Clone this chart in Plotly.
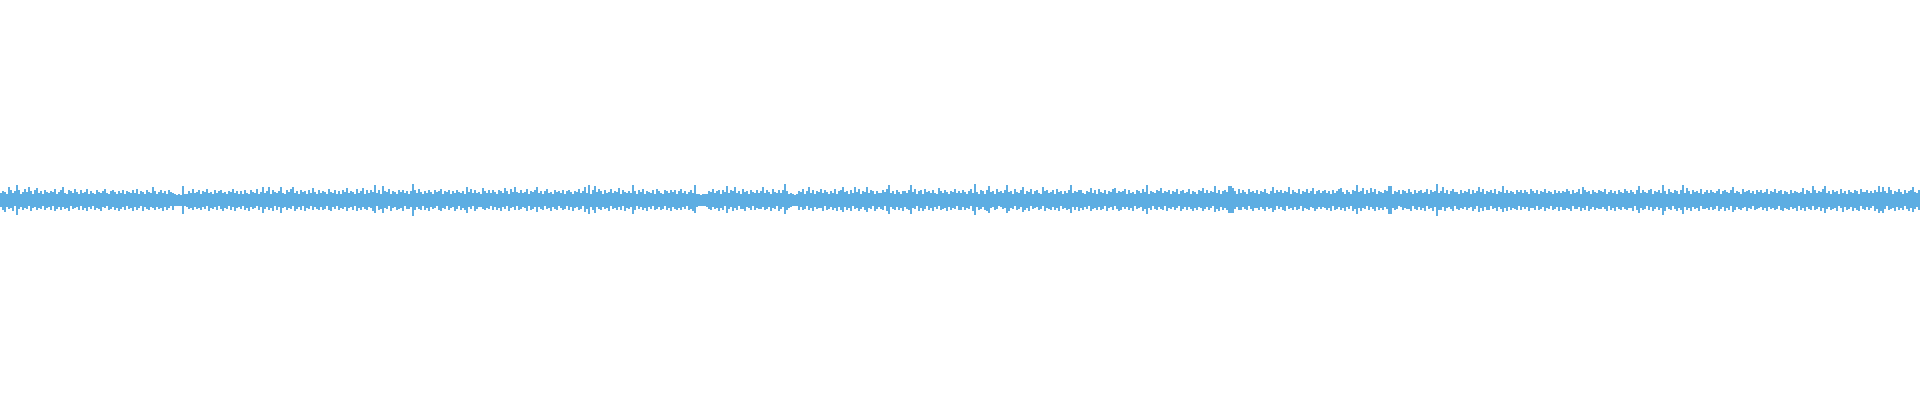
import plotly.graph_objects as go

# Waveform peaks per 2-pixel bucket (sample amplitude, full scale = 1000)
peak_max = [
    34,47,41,30,63,52,35,43,75,49,31,42,53,38,63,45,29,48,58,37,
    44,30,51,38,33,46,39,54,31,42,48,63,36,29,50,44,35,53,40,32,
    48,33,40,55,31,45,37,29,50,42,34,47,53,36,30,44,51,38,32,46,
    36,51,30,45,40,33,49,37,54,31,44,39,28,50,42,35,63,47,30,41,
    52,35,44,31,48,38,34,29,27,31,26,70,28,30,47,36,53,33,42,49,
    31,46,38,53,35,41,30,49,36,44,52,33,40,29,47,38,55,34,43,30,
    45,32,50,37,29,48,42,35,53,31,40,63,37,46,63,30,51,38,34,47,
    63,36,30,49,41,55,63,33,45,29,52,38,43,31,48,36,58,40,32,50,
    33,47,39,30,53,41,36,49,31,45,28,52,38,58,34,46,40,30,54,37,
    44,58,32,48,37,51,42,75,35,49,30,70,45,38,53,31,46,40,29,50,
    38,52,34,46,30,43,80,49,36,54,40,31,47,35,51,42,29,48,38,45,
    53,31,44,38,49,29,46,35,52,40,33,47,30,63,42,55,34,48,37,41,
    30,58,45,36,52,33,48,40,29,50,43,35,58,46,31,54,38,67,42,33,
    49,36,41,53,30,46,38,51,63,34,47,29,44,55,37,42,31,50,39,46,
    35,48,31,45,52,38,29,47,41,54,33,43,63,36,75,30,49,70,40,53,
    44,31,50,37,42,55,33,46,38,58,29,51,40,34,47,36,75,43,30,52,
    38,53,30,46,41,35,49,32,54,43,37,28,50,45,33,48,39,52,31,44,
    53,37,47,31,42,50,34,75,30,28,27,31,29,32,46,38,53,35,44,48,
    31,49,40,70,36,52,43,63,33,47,30,55,38,45,29,51,41,36,48,34,
    46,67,35,50,39,30,54,42,33,48,37,52,80,44,31,33,29,27,30,45,
    40,53,32,47,63,36,50,29,45,38,55,34,49,41,31,46,37,53,30,44,
    51,63,38,44,30,49,35,63,42,53,31,47,39,63,34,50,43,29,46,37,
    33,48,41,55,75,36,45,31,52,38,29,47,43,35,50,75,40,54,32,46,
    48,30,53,39,44,33,50,37,29,58,46,34,52,41,31,47,38,55,36,43,
    36,51,42,30,47,54,35,80,40,32,49,45,29,52,70,38,44,31,53,41,
    45,33,50,75,38,46,29,53,41,35,48,63,32,47,39,55,30,44,51,36,
    30,63,44,52,35,41,49,31,54,38,43,30,47,36,52,75,33,45,40,50,
    52,37,31,46,40,58,34,49,29,53,42,36,48,31,45,39,55,58,33,47,
    39,46,53,32,48,37,42,30,51,44,35,54,38,75,29,47,41,33,50,43,
    58,34,45,40,52,31,47,38,55,30,43,49,36,41,53,32,46,39,28,51,
    43,58,37,50,33,46,41,70,35,52,30,44,48,38,70,68,62,47,31,53,
    36,49,42,31,54,39,45,33,50,28,47,41,53,37,30,46,63,35,51,40,
    51,33,46,38,63,30,49,42,36,53,31,45,40,55,34,47,58,29,43,50,
    34,47,52,37,43,31,50,36,45,54,58,39,32,48,41,30,52,44,75,38,
    45,58,31,49,36,58,42,53,30,46,39,34,51,44,70,70,29,47,38,52,
    32,50,43,37,54,40,31,48,36,45,52,33,41,55,30,49,38,44,80,35,
    47,63,36,51,30,45,53,38,42,29,50,35,46,40,54,31,48,37,43,63,
    40,53,31,46,38,49,34,55,30,44,41,70,36,52,33,47,39,29,50,42,
    52,35,48,40,31,54,43,36,49,30,46,38,53,33,45,41,29,51,37,44,
    33,47,39,53,44,30,50,36,41,55,32,63,48,38,45,29,52,40,35,49,
    46,38,54,31,42,49,35,47,30,52,40,36,53,44,33,48,38,29,51,70,
    37,51,42,33,48,55,31,45,39,50,34,75,46,30,53,41,36,49,43,32,
    50,75,35,58,44,31,52,38,47,36,54,29,42,48,33,51,40,37,45,53,
    31,45,52,39,36,49,63,33,47,42,30,55,38,46,51,34,43,29,50,40,
    48,36,41,54,30,46,38,53,35,44,50,31,47,40,29,52,37,45,42,33,
    42,58,30,49,45,37,70,51,33,47,40,54,70,36,43,31,50,38,46,29,
    53,37,46,32,51,40,35,48,44,30,55,38,42,49,33,46,36,52,41,70,
    39,67,44,36,63,50,31,47,38,53,42,29,49,35,45,52,63,40,34,48,
]

peak_min = [
    -37,-50,-62,-33,-46,-41,-54,-30,-75,-44,-36,-52,-39,-47,-31,-53,-42,-35,-49,-38,
    -45,-31,-52,-40,-36,-48,-29,-54,-43,-37,-50,-33,-46,-41,-55,-30,-47,-39,-34,-51,
    -32,-49,-41,-53,-36,-45,-30,-51,-38,-47,-54,-35,-42,-29,-50,-44,-33,-48,-40,-55,
    -47,-36,-52,-31,-44,-39,-55,-34,-48,-42,-30,-53,-37,-45,-50,-33,-41,-49,-35,-46,
    -39,-53,-34,-48,-42,-30,-50,-31,-29,-32,-28,-70,-30,-33,-45,-38,-52,-36,-47,-41,
    -51,-37,-44,-30,-55,-40,-47,-35,-49,-32,-43,-53,-38,-46,-31,-50,-36,-54,-42,-34,
    -44,-30,-49,-38,-53,-35,-46,-41,-29,-52,-37,-63,-45,-33,-50,-40,-55,-31,-48,-36,
    -63,-42,-34,-51,-38,-47,-30,-53,-44,-36,-49,-32,-55,-40,-45,-29,-52,-37,-43,-48,
    -35,-50,-43,-31,-48,-54,-37,-45,-29,-52,-40,-46,-33,-55,-41,-36,-49,-30,-53,-39,
    -48,-33,-46,-52,-37,-42,-55,-67,-31,-50,-44,-67,-38,-47,-30,-53,-41,-35,-49,-43,
    -40,-54,-31,-47,-43,-36,-78,-49,-33,-45,-52,-30,-48,-39,-55,-34,-46,-42,-29,-51,
    -53,-38,-45,-30,-50,-41,-35,-54,-44,-32,-48,-39,-52,-63,-36,-47,-31,-55,-43,-37,
    -33,-47,-52,-39,-44,-30,-51,-36,-49,-42,-55,-34,-46,-31,-53,-40,-37,-48,-29,-50,
    -46,-35,-41,-54,-31,-49,-43,-37,-58,-33,-47,-52,-30,-45,-40,-55,-36,-44,-50,-32,
    -38,-52,-44,-30,-48,-36,-53,-41,-33,-49,-46,-31,-58,-43,-72,-37,-51,-67,-34,-45,
    -50,-33,-47,-42,-55,-31,-44,-38,-52,-35,-48,-30,-53,-40,-45,-36,-72,-49,-32,-46,
    -35,-49,-41,-54,-37,-45,-30,-52,-43,-33,-50,-46,-29,-48,-39,-55,-34,-44,-51,-38,
    -52,-37,-46,-31,-49,-43,-55,-67,-33,-31,-30,-32,-29,-34,-44,-50,-36,-47,-40,-53,
    -41,-48,-30,-67,-45,-36,-53,-39,-50,-32,-47,-44,-55,-35,-42,-49,-31,-52,-38,-46,
    -47,-34,-51,-43,-37,-55,-40,-46,-30,-53,-44,-36,-72,-48,-41,-35,-31,-30,-32,-49,
    -36,-52,-44,-31,-48,-40,-54,-33,-47,-42,-38,-55,-30,-50,-45,-35,-49,-41,-53,-37,
    -51,-58,-35,-49,-42,-55,-31,-46,-38,-53,-44,-33,-50,-62,-40,-47,-30,-54,-43,-36,
    -43,-49,-30,-54,-70,-37,-46,-51,-33,-48,-41,-55,-36,-45,-52,-72,-39,-47,-31,-53,
    -38,-53,-45,-32,-49,-42,-55,-36,-47,-30,-51,-44,-38,-54,-33,-48,-41,-46,-29,-52,
    -49,-35,-52,-40,-46,-31,-54,-75,-37,-50,-43,-33,-48,-55,-67,-42,-36,-51,-45,-30,
    -33,-47,-41,-67,-53,-38,-45,-30,-52,-44,-36,-62,-49,-40,-55,-31,-47,-42,-35,-50,
    -46,-31,-54,-38,-43,-50,-35,-48,-41,-55,-30,-47,-39,-52,-44,-67,-33,-49,-37,-53,
    -40,-52,-36,-47,-30,-55,-43,-38,-51,-34,-48,-45,-31,-53,-42,-37,-50,-29,-46,-54,
    -51,-37,-45,-33,-49,-42,-55,-31,-47,-40,-36,-53,-44,-72,-38,-50,-30,-46,-52,-35,
    -44,-50,-31,-54,-39,-47,-35,-52,-41,-30,-55,-43,-37,-49,-33,-46,-53,-40,-48,-36,
    -38,-53,-47,-36,-51,-42,-30,-62,-45,-55,-33,-49,-40,-52,-63,-63,-63,-44,-37,-50,
    -52,-35,-43,-49,-31,-46,-54,-38,-41,-50,-36,-47,-55,-33,-44,-39,-62,-48,-30,-45,
    -37,-49,-55,-32,-45,-40,-51,-35,-48,-43,-30,-53,-38,-46,-52,-36,-41,-54,-47,-33,
    -47,-33,-42,-52,-38,-55,-31,-49,-44,-36,-50,-40,-54,-35,-46,-30,-53,-43,-72,-39,
    -53,-40,-46,-31,-50,-37,-44,-55,-33,-48,-41,-52,-36,-45,-70,-70,-38,-51,-43,-30,
    -36,-51,-38,-47,-43,-54,-30,-45,-52,-35,-49,-41,-55,-32,-46,-40,-53,-37,-78,-48,
    -49,-34,-53,-41,-36,-47,-55,-31,-44,-50,-38,-46,-33,-52,-42,-37,-54,-45,-30,-62,
    -42,-55,-35,-48,-51,-30,-45,-39,-53,-36,-47,-62,-41,-54,-33,-49,-38,-44,-52,-31,
    -50,-37,-46,-33,-54,-42,-39,-52,-31,-48,-45,-36,-55,-40,-47,-30,-51,-43,-35,-53,
    -34,-48,-52,-39,-45,-55,-31,-47,-43,-37,-53,-40,-49,-30,-54,-44,-36,-50,-42,-46,
    -47,-35,-43,-53,-30,-49,-41,-55,-36,-45,-51,-33,-46,-52,-38,-42,-54,-31,-48,-67,
    -39,-52,-46,-31,-50,-37,-55,-43,-34,-48,-41,-75,-53,-36,-45,-49,-30,-47,-54,-40,
    -51,-72,-36,-48,-42,-55,-33,-46,-40,-53,-30,-47,-44,-38,-52,-35,-49,-43,-31,-54,
    -44,-37,-53,-41,-49,-30,-58,-50,-36,-46,-52,-39,-33,-55,-42,-47,-31,-51,-45,-38,
    -36,-50,-42,-55,-33,-47,-40,-52,-45,-31,-48,-54,-38,-43,-50,-35,-46,-41,-53,-30,
    -48,-41,-54,-37,-45,-52,-31,-49,-43,-36,-55,-40,-63,-47,-34,-51,-44,-38,-53,-32,
    -42,-58,-35,-50,-46,-33,-53,-39,-48,-55,-31,-45,-52,-37,-49,-41,-30,-54,-44,-63,
    -53,-63,-47,-32,-50,-44,-38,-55,-36,-49,-41,-52,-30,-46,-54,-39,-62,-45,-33,-48,
]

n = min(len(peak_max), len(peak_min))
idx = list(range(n))
heights = [peak_max[i] - peak_min[i] for i in range(n)]

fig = go.Figure(
    go.Bar(
        x=idx,
        y=heights,
        base=peak_min[:n],
        marker=dict(color="#5DADE2", line=dict(width=0)),
        hoverinfo="skip",
    )
)

fig.update_layout(
    width=1920,
    height=400,
    margin=dict(l=0, r=0, t=0, b=0),
    paper_bgcolor="white",
    plot_bgcolor="white",
    bargap=0,
    showlegend=False,
    xaxis=dict(visible=False, range=[-0.5, n - 0.5], fixedrange=True),
    yaxis=dict(visible=False, range=[-1000, 1000], fixedrange=True),
)

fig.write_html(
    "out.html",
    config={"displayModeBar": False},
    post_script="document.body.style.margin='0';document.body.style.overflow='hidden';",
)
